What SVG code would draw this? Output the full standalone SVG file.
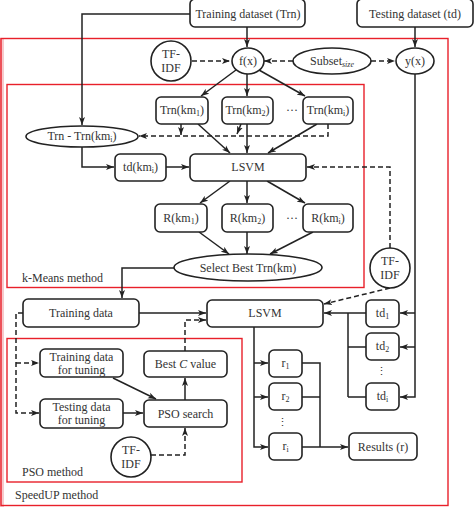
<svg xmlns="http://www.w3.org/2000/svg" width="474" height="507" viewBox="0 0 474 507">
<defs>
<marker id="ah" markerUnits="userSpaceOnUse" markerWidth="9" markerHeight="7" refX="8" refY="3.5" orient="auto">
<path d="M0,0.5 L8,3.5 L0,6.5 L2,3.5 z" fill="#222"/>
</marker>
<style>
.box{fill:#fff;stroke:#222;stroke-width:1.6}
.t{font-family:"Liberation Serif","DejaVu Serif",serif;font-size:12px;fill:#333;text-anchor:middle;dominant-baseline:central}
.lbl{font-family:"Liberation Serif","DejaVu Serif",serif;font-size:12px;fill:#333}
.sub{font-size:8px}
.c{fill:none;stroke:#222;stroke-width:1.5}
.a{marker-end:url(#ah)}
.d{stroke-dasharray:5,3}
.red{fill:none;stroke:#e8202a;stroke-width:1.4}
</style>
</defs>
<rect width="474" height="507" fill="#fff"/>
<rect x="0" y="38" width="4" height="469" fill="#f7c9cc"/>

<!-- frames -->
<g id="speedup">
<rect class="red" x="1" y="38.5" width="447" height="467"/>
<text class="lbl" x="15" y="499">SpeedUP method</text>
</g>
<g id="kmeans">
<rect class="red" x="7" y="84.5" width="357" height="203"/>
<text class="lbl" x="22" y="282">k-Means method</text>
</g>
<g id="pso">
<rect class="red" x="7" y="338.5" width="235" height="143.5"/>
<text class="lbl" x="22" y="476">PSO method</text>
</g>

<!-- connectors -->
<g id="connectors">
<path class="c a" d="M247,27 V47"/>
<path class="c a" d="M415,27 V47"/>
<path class="c a" d="M190,14 H82 V125"/>
<path class="c a d" d="M192,61 H230"/>
<path class="c a d" d="M293,61 H264"/>
<path class="c a d" d="M371,61 H395"/>
<path class="c a" d="M236,70 L201,96"/>
<path class="c a" d="M247,73 V96"/>
<path class="c a" d="M259,70 L305,96"/>
<path class="c a" d="M181,124 V135"/>
<path class="c a" d="M241,124 L237,134"/>
<path class="c a d" d="M328,124 V136 H139"/>
<path class="c a" d="M198,124 L230,153"/>
<path class="c a" d="M247,124 V153"/>
<path class="c a" d="M317,124 L268,153"/>
<path class="c a" d="M82,147 V167 H114"/>
<path class="c a" d="M166,167 H189"/>
<path class="c a d" d="M390,248 V167 H307"/>
<path class="c a" d="M230,181 L200,203"/>
<path class="c a" d="M247,181 V203"/>
<path class="c a" d="M267,181 L305,203"/>
<path class="c a" d="M199,232 L229,254"/>
<path class="c a" d="M247,232 V254"/>
<path class="c a" d="M313,232 L270,254"/>
<path class="c a" d="M174,268 H122 V298"/>
<path class="c a" d="M139,313 H206"/>
<path class="c a d" d="M185,351 V320 H206"/>
<path class="c a d" d="M390,288 L324,304"/>
<path class="c a" d="M415,74 V397 H400"/>
<path class="c a" d="M415,313 H400"/>
<path class="c a" d="M415,347 H400"/>
<path class="c a" d="M366,313 H324"/>
<path class="c" d="M366,347 H348 M366,397 H348 M348,313 V397"/>
<path class="c a" d="M254,327 V447 H268"/>
<path class="c a" d="M254,363 H268"/>
<path class="c a" d="M254,397 H268"/>
<path class="c" d="M302,363 H320 V447 M302,397 H320"/>
<path class="c a" d="M302,447 H348"/>
<path class="c a d" d="M23,313 H16 V413 H39"/>
<path class="c a d" d="M16,363 H39"/>
<path class="c a" d="M113,378 L156,399"/>
<path class="c a" d="M123,413 H143"/>
<path class="c a" d="M185,400 V378"/>
<path class="c a d" d="M151,455 H185 V428"/>
</g>

<!-- nodes -->
<g id="trn"><rect class="box" x="190" y="-1" width="115" height="28" rx="5"/><text class="t" x="248" y="14">Training dataset (Trn)</text></g>
<g id="tst"><rect class="box" x="357" y="-1" width="116" height="28" rx="5"/><text class="t" x="415" y="14">Testing dataset (td)</text></g>
<g id="tfidf1"><circle class="box" cx="171" cy="61" r="20"/><text class="t" x="171" y="54">TF-</text><text class="t" x="171" y="68">IDF</text></g>
<g id="fx"><ellipse class="box" cx="248" cy="61" rx="16" ry="13"/><text class="t" x="248" y="61">f(x)</text></g>
<g id="subset"><ellipse class="box" cx="332" cy="61" rx="39" ry="13"/><text class="t" x="332" y="61">Subset<tspan class="sub" font-style="italic" dy="3">size</tspan></text></g>
<g id="yx"><ellipse class="box" cx="415" cy="61" rx="19" ry="13"/><text class="t" x="415" y="61">y(x)</text></g>

<g id="trnkm1"><rect class="box" x="156" y="97" width="52" height="27" rx="5"/><text class="t" x="182" y="110">Trn(km<tspan class="sub" dy="3">1</tspan><tspan dy="-3">)</tspan></text></g>
<g id="trnkm2"><rect class="box" x="222" y="97" width="51" height="27" rx="5"/><text class="t" x="247.5" y="110">Trn(km<tspan class="sub" dy="3">2</tspan><tspan dy="-3">)</tspan></text></g>
<text class="t" x="292" y="110">···</text>
<g id="trnkmi"><rect class="box" x="303" y="97" width="50" height="27" rx="5"/><text class="t" x="328" y="110">Trn(km<tspan class="sub" dy="3">i</tspan><tspan dy="-3">)</tspan></text></g>

<g id="trndiff"><ellipse class="box" cx="82" cy="136.5" rx="56" ry="10.5"/><text class="t" x="82" y="136">Trn - Trn(km<tspan class="sub" dy="3">i</tspan><tspan dy="-3">)</tspan></text></g>
<g id="tdkmi"><rect class="box" x="115" y="154" width="51" height="27" rx="5"/><text class="t" x="140.5" y="167">td(km<tspan class="sub" dy="3">i</tspan><tspan dy="-3">)</tspan></text></g>
<g id="lsvm1"><rect class="box" x="190" y="154" width="116" height="27" rx="5"/><text class="t" x="248" y="167">LSVM</text></g>

<g id="rkm1"><rect class="box" x="155" y="204" width="52" height="28" rx="5"/><text class="t" x="181" y="218">R(km<tspan class="sub" dy="3">1</tspan><tspan dy="-3">)</tspan></text></g>
<g id="rkm2"><rect class="box" x="222" y="204" width="51" height="28" rx="5"/><text class="t" x="247.5" y="218">R(km<tspan class="sub" dy="3">2</tspan><tspan dy="-3">)</tspan></text></g>
<text class="t" x="292" y="218">···</text>
<g id="rkmi"><rect class="box" x="303" y="204" width="50" height="28" rx="5"/><text class="t" x="328" y="218">R(km<tspan class="sub" dy="3">i</tspan><tspan dy="-3">)</tspan></text></g>

<g id="select"><ellipse class="box" cx="248" cy="267.5" rx="74" ry="13.5"/><text class="t" x="248" y="267.5">Select Best Trn(km)</text></g>
<g id="tfidf2"><circle class="box" cx="390" cy="268" r="20"/><text class="t" x="390" y="261">TF-</text><text class="t" x="390" y="275">IDF</text></g>

<g id="traindata"><rect class="box" x="23" y="299" width="116" height="28" rx="5"/><text class="t" x="81" y="313">Training data</text></g>
<g id="lsvm2"><rect class="box" x="207" y="300" width="116" height="27" rx="5"/><text class="t" x="265" y="313">LSVM</text></g>
<g id="td1"><rect class="box" x="366" y="300" width="33" height="27" rx="5"/><text class="t" x="382.5" y="313">td<tspan class="sub" dy="3">1</tspan></text></g>
<g id="td2"><rect class="box" x="366" y="333" width="33" height="27" rx="5"/><text class="t" x="382.5" y="346">td<tspan class="sub" dy="3">2</tspan></text></g>
<text x="381" y="371" font-family="DejaVu Serif, serif" font-size="11" fill="#333" text-anchor="middle" dominant-baseline="central">⋮</text>
<g id="tdi"><rect class="box" x="366" y="383" width="33" height="27" rx="5"/><text class="t" x="382.5" y="396">td<tspan class="sub" dy="3">i</tspan></text></g>

<g id="r1"><rect class="box" x="269" y="350" width="33" height="27" rx="5"/><text class="t" x="285.5" y="363">r<tspan class="sub" dy="3">1</tspan></text></g>
<g id="r2"><rect class="box" x="269" y="383" width="33" height="27" rx="5"/><text class="t" x="285.5" y="396">r<tspan class="sub" dy="3">2</tspan></text></g>
<text x="282" y="422" font-family="DejaVu Serif, serif" font-size="11" fill="#333" text-anchor="middle" dominant-baseline="central">⋮</text>
<g id="ri"><rect class="box" x="269" y="433" width="33" height="27" rx="5"/><text class="t" x="285.5" y="446">r<tspan class="sub" dy="3">i</tspan></text></g>
<g id="results"><rect class="box" x="349" y="433" width="68" height="27" rx="5"/><text class="t" x="383" y="446.5">Results (r)</text></g>

<g id="traintune"><rect class="box" x="40" y="349" width="83" height="28" rx="5"/><text class="t" x="81.5" y="357">Training data</text><text class="t" x="81.5" y="370">for tuning</text></g>
<g id="testtune"><rect class="box" x="40" y="399" width="83" height="29" rx="5"/><text class="t" x="81.5" y="407">Testing data</text><text class="t" x="81.5" y="420">for tuning</text></g>
<g id="bestc"><rect class="box" x="144" y="351" width="83" height="26" rx="5"/><text class="t" x="185.5" y="364">Best <tspan font-style="italic">C</tspan> value</text></g>
<g id="psosearch"><rect class="box" x="144" y="400" width="83" height="27" rx="5"/><text class="t" x="185.5" y="413.5">PSO search</text></g>
<g id="tfidf3"><circle class="box" cx="131" cy="457" r="20"/><text class="t" x="131" y="450">TF-</text><text class="t" x="131" y="464">IDF</text></g>
</svg>
